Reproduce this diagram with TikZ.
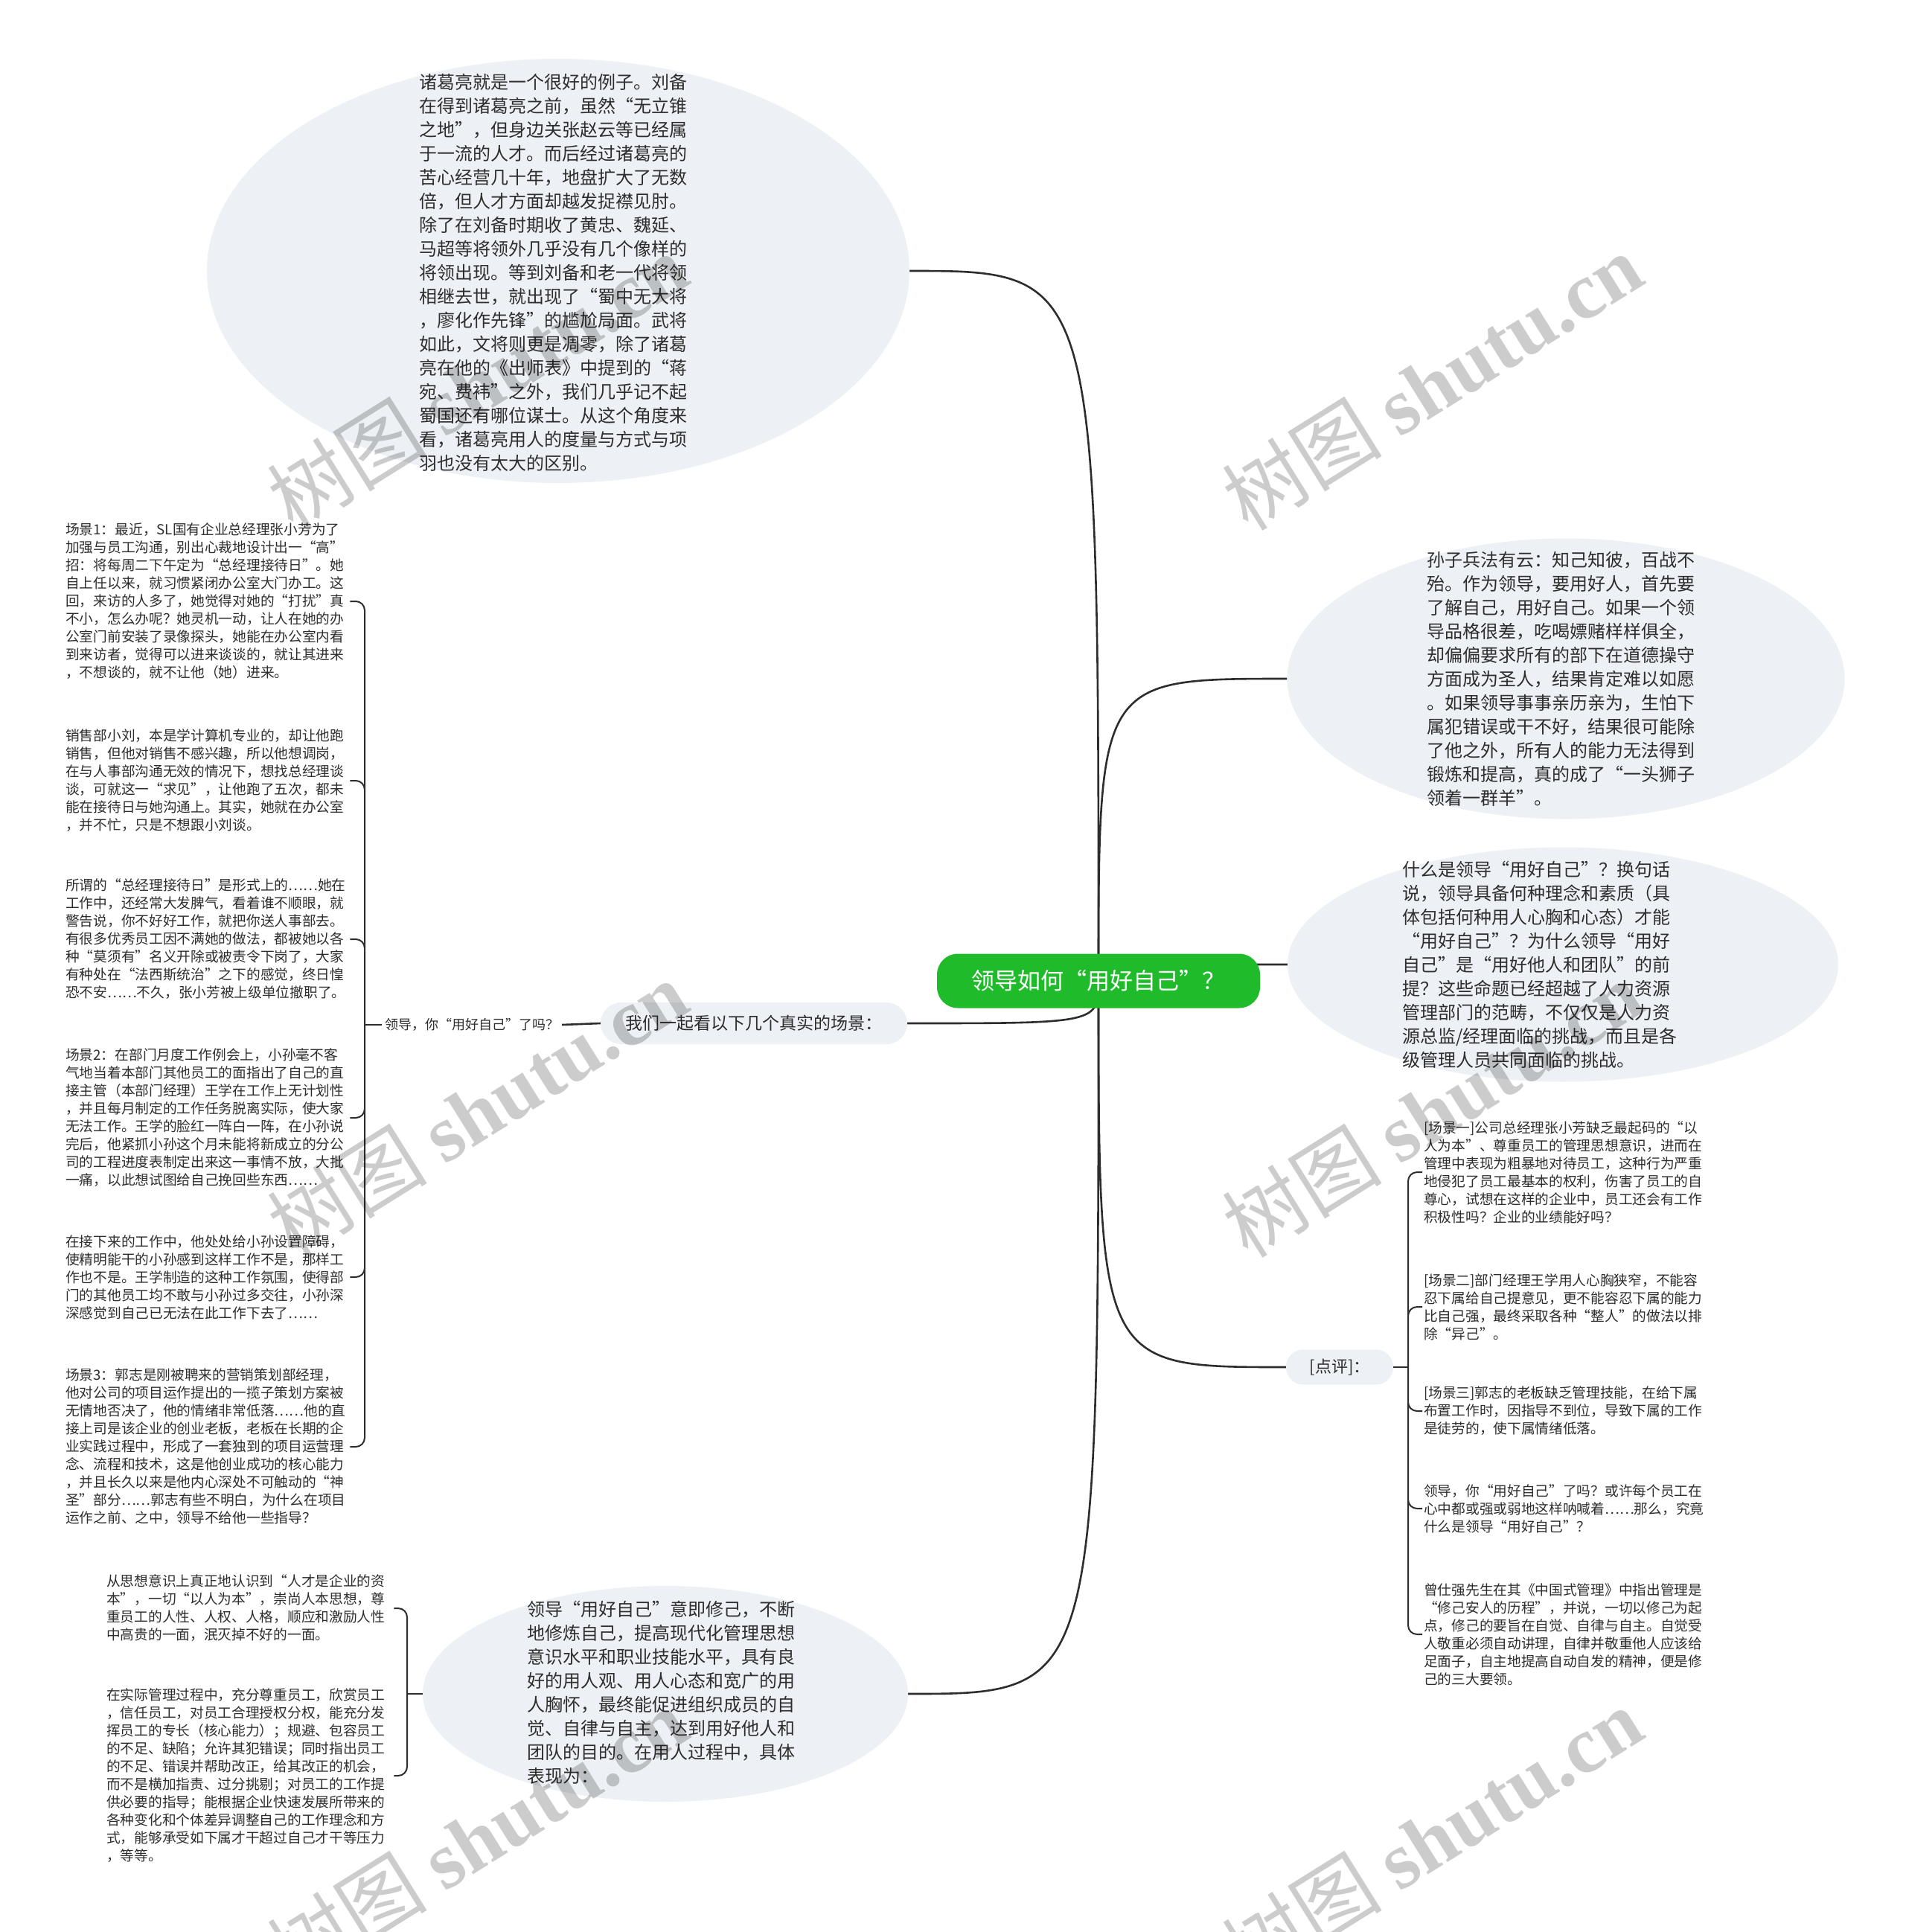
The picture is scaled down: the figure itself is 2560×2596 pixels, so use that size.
\documentclass[tikz,border=0pt]{standalone}
\usepackage{fontspec}
\setmainfont{Noto Sans CJK SC}
\newfontfamily\wmfont{Liberation Serif}
\usetikzlibrary{shapes.geometric,backgrounds}
\definecolor{rootgreen}{RGB}{31,187,43}
\definecolor{bubblegray}{RGB}{237,240,244}
\definecolor{inkgray}{RGB}{45,45,45}

\begin{document}
\begin{tikzpicture}[x=1pt,y=-1pt,
  every node/.style={text=inkgray},
  link/.style={draw=inkgray, line width=2.6pt},
  brace/.style={draw=inkgray, line width=2pt, rounded corners=12pt}]
  \tikzstyle{bubble}=[ellipse, fill=bubblegray, inner sep=0pt]
  \tikzstyle{pill}=[rectangle, fill=bubblegray, inner sep=0pt]
  \tikzstyle{bodytxt}=[font=\fontsize{24}{32}\selectfont, align=left, inner sep=0pt, anchor=west]
  \tikzstyle{leaftxt}=[font=\fontsize{18.7}{24}\selectfont, align=left, text width=380pt, inner sep=2pt, anchor=west]
  \tikzstyle{wmark}=[text=black, opacity=0.2, rotate=32, font=\fontsize{108}{108}\selectfont]
  \useasboundingbox (0,0) rectangle (2560,2596);

  \node[rectangle, rounded corners=28pt, fill=rootgreen, minimum width=434pt, minimum height=73pt,
    text=white, font=\fontsize{31}{31}\selectfont] (root) at (1476,1318) {领导如何“用好自己”？};

  \node[bubble, minimum width=944pt, minimum height=570pt] (zhuge) at (750,364) {};
  \node[bodytxt] (zhugetxt) at (563,366) {诸葛亮就是一个很好的例子。刘备\\
在得到诸葛亮之前，虽然“无立锥\\
之地”，但身边关张赵云等已经属\\
于一流的人才。而后经过诸葛亮的\\
苦心经营几十年，地盘扩大了无数\\
倍，但人才方面却越发捉襟见肘。\\
除了在刘备时期收了黄忠、魏延、\\
马超等将领外几乎没有几个像样的\\
将领出现。等到刘备和老一代将领\\
相继去世，就出现了“蜀中无大将\\
，廖化作先锋”的尴尬局面。武将\\
如此，文将则更是凋零，除了诸葛\\
亮在他的《出师表》中提到的“蒋\\
宛、费袆”之外，我们几乎记不起\\
蜀国还有哪位谋士。从这个角度来\\
看，诸葛亮用人的度量与方式与项\\
羽也没有太大的区别。};

  \node[bubble, minimum width=749pt, minimum height=377pt] (sunzi) at (2104,912) {};
  \node[bodytxt] (sunzitxt) at (1917,912) {孙子兵法有云：知己知彼，百战不\\
殆。作为领导，要用好人，首先要\\
了解自己，用好自己。如果一个领\\
导品格很差，吃喝嫖赌样样俱全，\\
却偏偏要求所有的部下在道德操守\\
方面成为圣人，结果肯定难以如愿\\
。如果领导事事亲历亲为，生怕下\\
属犯错误或干不好，结果很可能除\\
了他之外，所有人的能力无法得到\\
锻炼和提高，真的成了“一头狮子\\
领着一群羊”。};

  \node[bubble, minimum width=740pt, minimum height=315pt] (what) at (2100,1296) {};
  \node[bodytxt] (whattxt) at (1884,1296) {什么是领导“用好自己”？换句话\\
说，领导具备何种理念和素质（具\\
体包括何种用人心胸和心态）才能\\
“用好自己”？为什么领导“用好\\
自己”是“用好他人和团队”的前\\
提？这些命题已经超越了人力资源\\
管理部门的范畴，不仅仅是人力资\\
源总监/经理面临的挑战，而且是各\\
级管理人员共同面临的挑战。};

  \node[bubble, minimum width=652pt, minimum height=290pt] (xiuji) at (894,2276) {};
  \node[bodytxt] (xiujitxt) at (708,2274) {领导“用好自己”意即修己，不断\\
地修炼自己，提高现代化管理思想\\
意识水平和职业技能水平，具有良\\
好的用人观、用人心态和宽广的用\\
人胸怀，最终能促进组织成员的自\\
觉、自律与自主，达到用好他人和\\
团队的目的。在用人过程中，具体\\
表现为：};

  \node[pill, rounded corners=28pt, minimum width=412pt, minimum height=56pt,
    font=\fontsize{23}{23}\selectfont] (scenes) at (1013,1375) {我们一起看以下几个真实的场景：};
  \node[font=\fontsize{18}{18}\selectfont, inner sep=4pt] (ask) at (634,1377) {领导，你“用好自己”了吗？};
  \coordinate (lj) at (490,1377);

  \node[leaftxt] (s1) at (86,808) {场景1：最近，SL国有企业总经理张小芳为了\\
加强与员工沟通，别出心裁地设计出一“高”\\
招：将每周二下午定为“总经理接待日”。她\\
自上任以来，就习惯紧闭办公室大门办工。这\\
回，来访的人多了，她觉得对她的“打扰”真\\
不小，怎么办呢？她灵机一动，让人在她的办\\
公室门前安装了录像探头，她能在办公室内看\\
到来访者，觉得可以进来谈谈的，就让其进来\\
，不想谈的，就不让他（她）进来。};
  \node[leaftxt] (s2) at (86,1049) {销售部小刘，本是学计算机专业的，却让他跑\\
销售，但他对销售不感兴趣，所以他想调岗，\\
在与人事部沟通无效的情况下，想找总经理谈\\
谈，可就这一“求见”，让他跑了五次，都未\\
能在接待日与她沟通上。其实，她就在办公室\\
，并不忙，只是不想跟小刘谈。};
  \node[leaftxt] (s3) at (86,1262) {所谓的“总经理接待日”是形式上的……她在\\
工作中，还经常大发脾气，看着谁不顺眼，就\\
警告说，你不好好工作，就把你送人事部去。\\
有很多优秀员工因不满她的做法，都被她以各\\
种“莫须有”名义开除或被责令下岗了，大家\\
有种处在“法西斯统治”之下的感觉，终日惶\\
恐不安……不久，张小芳被上级单位撤职了。};
  \node[leaftxt] (s4) at (86,1502) {场景2：在部门月度工作例会上，小孙毫不客\\
气地当着本部门其他员工的面指出了自己的直\\
接主管（本部门经理）王学在工作上无计划性\\
，并且每月制定的工作任务脱离实际，使大家\\
无法工作。王学的脸红一阵白一阵，在小孙说\\
完后，他紧抓小孙这个月未能将新成立的分公\\
司的工程进度表制定出来这一事情不放，大批\\
一痛，以此想试图给自己挽回些东西……};
  \node[leaftxt] (s5) at (86,1716) {在接下来的工作中，他处处给小孙设置障碍，\\
使精明能干的小孙感到这样工作不是，那样工\\
作也不是。王学制造的这种工作氛围，使得部\\
门的其他员工均不敢与小孙过多交往，小孙深\\
深感觉到自己已无法在此工作下去了……};
  \node[leaftxt] (s6) at (86,1944) {场景3：郭志是刚被聘来的营销策划部经理，\\
他对公司的项目运作提出的一揽子策划方案被\\
无情地否决了，他的情绪非常低落……他的直\\
接上司是该企业的创业老板，老板在长期的企\\
业实践过程中，形成了一套独到的项目运营理\\
念、流程和技术，这是他创业成功的核心能力\\
，并且长久以来是他内心深处不可触动的“神\\
圣”部分……郭志有些不明白，为什么在项目\\
运作之前、之中，领导不给他一些指导？};

  \node[pill, rounded corners=23pt, minimum width=144pt, minimum height=47pt,
    font=\fontsize{22}{22}\selectfont] (comment) at (1800,1837) {[点评]：};
  \coordinate (rj) at (1892,1837);

  \node[leaftxt] (c1) at (1911,1575) {[场景一]公司总经理张小芳缺乏最起码的“以\\
人为本”、尊重员工的管理思想意识，进而在\\
管理中表现为粗暴地对待员工，这种行为严重\\
地侵犯了员工最基本的权利，伤害了员工的自\\
尊心，试想在这样的企业中，员工还会有工作\\
积极性吗？企业的业绩能好吗？};
  \node[leaftxt] (c2) at (1911,1756) {[场景二]部门经理王学用人心胸狭窄，不能容\\
忍下属给自己提意见，更不能容忍下属的能力\\
比自己强，最终采取各种“整人”的做法以排\\
除“异己”。};
  \node[leaftxt] (c3) at (1911,1896) {[场景三]郭志的老板缺乏管理技能，在给下属\\
布置工作时，因指导不到位，导致下属的工作\\
是徒劳的，使下属情绪低落。};
  \node[leaftxt] (c4) at (1911,2027) {领导，你“用好自己”了吗？或许每个员工在\\
心中都或强或弱地这样呐喊着……那么，究竟\\
什么是领导“用好自己”？};
  \node[leaftxt] (c5) at (1911,2196) {曾仕强先生在其《中国式管理》中指出管理是\\
“修己安人的历程”，并说，一切以修己为起\\
点，修己的要旨在自觉、自律与自主。自觉受\\
人敬重必须自动讲理，自律并敬重他人应该给\\
足面子，自主地提高自动自发的精神，便是修\\
己的三大要领。};

  \coordinate (bj) at (547,2276);
  \node[leaftxt, text width=384pt] (x1) at (141,2161) {从思想意识上真正地认识到“人才是企业的资\\
本”，一切“以人为本”，崇尚人本思想，尊\\
重员工的人性、人权、人格，顺应和激励人性\\
中高贵的一面，泯灭掉不好的一面。};
  \node[leaftxt, text width=384pt] (x2) at (141,2386) {在实际管理过程中，充分尊重员工，欣赏员工\\
，信任员工，对员工合理授权分权，能充分发\\
挥员工的专长（核心能力）；规避、包容员工\\
的不足、缺陷；允许其犯错误；同时指出员工\\
的不足、错误并帮助改正，给其改正的机会，\\
而不是横加指责、过分挑剔；对员工的工作提\\
供必要的指导；能根据企业快速发展所带来的\\
各种变化和个体差异调整自己的工作理念和方\\
式，能够承受如下属才干超过自己才干等压力\\
，等等。};

  \begin{pgfonlayer}{background}
    \fill[white] (0,0) rectangle (2560,2596);
    \draw[link] (root.center) .. controls (root.center |- zhuge.east) .. (zhuge.east);
    \draw[link] (root.center) .. controls (root.center |- sunzi.west) .. (sunzi.west);
    \draw[link] (root.center) .. controls (root.center |- what.west) .. (what.west);
    \draw[link] (root.center) .. controls (root.center |- scenes.east) .. (scenes.east);
    \draw[link] (root.center) .. controls (root.center |- comment.west) .. (comment.west);
    \draw[link] (root.center) .. controls (root.center |- xiuji.east) .. (xiuji.east);
  \end{pgfonlayer}

  \draw[link] (scenes.west) -- (ask.east);
  \draw[brace] (ask.west) -- (lj);
  \draw[brace] (lj) |- (s1.east) (lj) |- (s2.east) (lj) |- (s3.east)
    (lj) |- (s4.east) (lj) |- (s5.east) (lj) |- (s6.east);
  \draw[brace] (comment.east) -- (rj);
  \draw[brace] (rj) |- (c1.west) (rj) |- (c2.west) (rj) |- (c3.west)
    (rj) |- (c4.west) (rj) |- (c5.west);
  \draw[brace] (xiuji.west) -- (bj);
  \draw[brace] (bj) |- (x1.east) (bj) |- (x2.east);

  \node[wmark] (wm1) at (641,513) {树图 {\wmfont\bfseries shutu.cn}};
  \node[wmark] (wm2) at (1924,513) {树图 {\wmfont\bfseries shutu.cn}};
  \node[wmark] (wm3) at (641,1490) {树图 {\wmfont\bfseries shutu.cn}};
  \node[wmark] (wm4) at (1924,1490) {树图 {\wmfont\bfseries shutu.cn}};
  \node[wmark] (wm5) at (641,2467) {树图 {\wmfont\bfseries shutu.cn}};
  \node[wmark] (wm6) at (1924,2467) {树图 {\wmfont\bfseries shutu.cn}};
\end{tikzpicture}
\end{document}
